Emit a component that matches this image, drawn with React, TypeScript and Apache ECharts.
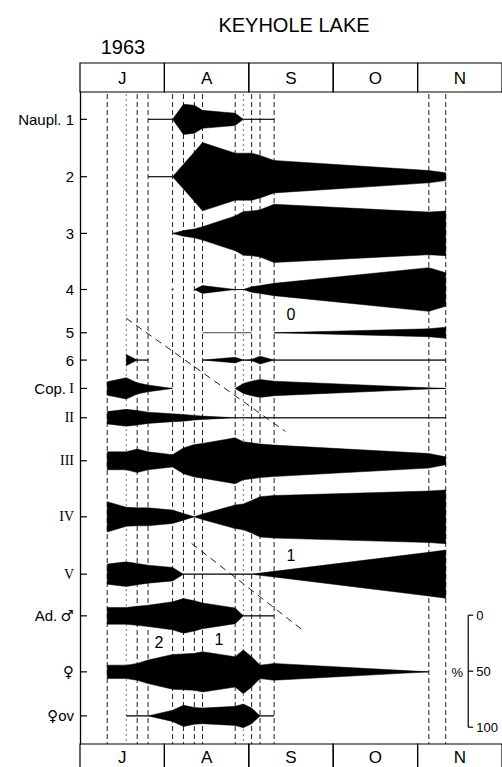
import React, { useEffect, useRef } from 'react';
import * as echarts from 'echarts';

const N = null;

// ---- calendar ----
const monthLabels = ['J', 'A', 'S', 'O', 'N'];
const firstMonth = 7;
const daysInMonth: Record<number, number> = { 7: 31, 8: 31, 9: 30, 10: 31, 11: 30 };

// sampling dates (1963)
const sampleDates = ['07-11', '07-18', '07-22', '07-26', '08-04', '08-08', '08-12', '08-15', '08-27', '08-30', '09-02', '09-05', '09-10', '11-05', '11-11'];
const dottedSamples = ['07-18', '08-30'];

// ---- stages (rows) ----
const rowLabels = ['Naupl. 1', '2', '3', '4', '5', '6', 'Cop. I', 'II', 'III', 'IV', 'V', 'Ad. ♂', '♀', '♀ov'];
// row baselines, in % units measured down from the top of the plot
const rowCenters = [24.4, 75.6, 126.2, 176.3, 214.9, 239.3, 264.6, 290.8, 329.2, 379.2, 430.4, 467.6, 517.6, 556.9];

// ---- percentage of each stage at each sampling date (null = not recorded) ----
const naupl1 = [N, N, N, 0, 0, 27, 25, 16, 11, 0, 0, 0, 0, N, N];
const naupl2 = [N, N, N, 0, 0, 22, 44, 61, 42, 42, 42, 38, 29, 11, 7];
const naupl3 = [N, N, N, N, 0, 5, 8, 12, 31, 39, 40, 42, 52, 38, 40];
const naupl4 = [N, N, N, N, N, N, 0, 7, 0, 0, 5, 7, 11, 39, 30];
const naupl5 = [N, N, N, N, N, N, N, 0, 0, 0, 0, N, 0, 7, 10];
const naupl6 = [N, 10, 0, 0, N, N, N, 0, 5, 0, 1, 7, 0, 0, 0];
const copI = [12, 19, 10, 6, 0, N, N, N, 0, 9, 13, 16, 13, 1, 0];
const copII = [11, 15, 13, 10, 7, 6, 4, 3, 0, 0, 0, 0, 0, 0, 0];
const copIII = [16, 16, 21, 16, 11, 23, 29, 31, 41, 34, 32, 30, 28, 13, 7];
const copIV = [27, 17, 16, 16, 12, 6, 0, 5, 21, 23, 29, 36, 38, 46, 48];
const copV = [18, 22, 19, 16, 12, 0, 0, 0, 0, 0, 0, 2, 5, 39, 43];
const adMale = [15, 15, 17, 19, 25, 31, 27, 23, 14, 0, 0, 0, 0, N, N];
const adFemale = [12, 12, 15, 21, 31, 32, 33, 36, 27, 39, 27, 12, 15, 0, N];
const femaleOv = [N, 0, 0, 0, 10, 19, 15, 14, 17, 21, 14, 0, 0, N, N];

// single "trace" observation (⊙)
const traceRows = [3];
const traceDates = ['08-04'];

// cohort (generation) guide lines
const cohortStartDates = ['07-18', '08-11'];
const cohortEndDates = ['09-14', '09-21'];
const cohortStartDepth = [202, 403];
const cohortEndDepth = [303, 482];

// generation labels
const genLabels = ['0', '1', '2', '1'];
const genDates = ['09-16', '09-16', '07-30', '08-21'];
const genDepth = [199, 414, 491, 489];

// % scale bar
const scaleTicks = [0, 50, 100];
const scaleDate = '11-19';
const scaleTop = 467;

const Y_MAX = 582;
const SANS = '"Liberation Sans", Arial, Helvetica, sans-serif';
const SERIF = '"Liberation Serif", "Times New Roman", serif';
const SYM = '"DejaVu Sans", "Liberation Sans", sans-serif';

function toX(date: string): number {
  const [m, d] = date.split('-').map(Number);
  return m - firstMonth + (d - 1) / daysInMonth[m];
}

const xs = sampleDates.map(toX);
const rows = [naupl1, naupl2, naupl3, naupl4, naupl5, naupl6, copI, copII, copIII, copIV, copV, adMale, adFemale, femaleOv];

function labelText(label: string) {
  const roman = /^(I|II|III|IV|V)$/;
  if (roman.test(label)) return `{r|${label}}`;
  if (label.startsWith('Cop.')) return `{s|Cop.} {r|${label.slice(5)}}`;
  if (label.startsWith('Ad.')) return `{s|Ad.} {g|♂}`;
  if (label === '♀') return `{g|♀}`;
  if (label === '♀ov') return `{g|♀}{s|ov}`;
  return `{s|${label}}`;
}

export default function App() {
  const ref = useRef<HTMLDivElement>(null);
  useEffect(() => {
    if (!ref.current) return;
    const chart = echarts.init(ref.current, undefined, { renderer: 'svg' });

    const renderKite = (params: any, api: any) => {
      const r = params.dataIndex;
      const vals = rows[r];
      const c = rowCenters[r];
      const children: any[] = [];
      let seg: number[] = [];
      const flush = () => {
        if (seg.length) {
          const left = api.coord([xs[seg[0]], c]);
          const right = api.coord([xs[seg[seg.length - 1]], c]);
          if (seg.length > 1) {
            children.push({
              type: 'line',
              shape: { x1: left[0], y1: left[1], x2: right[0], y2: right[1] },
              style: { stroke: '#444', lineWidth: 1 },
            });
          }
          if (seg.some((i) => (vals[i] as number) > 0)) {
            const top = seg.map((i) => api.coord([xs[i], c - (vals[i] as number) / 2]));
            const bot = seg.slice().reverse().map((i) => api.coord([xs[i], c + (vals[i] as number) / 2]));
            children.push({ type: 'polygon', shape: { points: top.concat(bot) }, style: { fill: '#000', stroke: '#000', lineWidth: 0.5 } });
          }
        }
        seg = [];
      };
      vals.forEach((v, i) => {
        if (v == null) flush();
        else seg.push(i);
      });
      flush();
      return { type: 'group', children };
    };

    const renderSample = (params: any, api: any) => {
      const d = sampleDates[params.dataIndex];
      const x = toX(d);
      const a = api.coord([x, 0]);
      const b = api.coord([x, Y_MAX]);
      const dotted = dottedSamples.includes(d);
      return {
        type: 'line',
        shape: { x1: a[0], y1: a[1] + 2, x2: b[0], y2: b[1] },
        style: { stroke: dotted ? '#777' : '#222', lineWidth: 1, lineDash: dotted ? [2, 3] : [5, 3] },
      };
    };

    const renderMonth = (params: any, api: any) => {
      const i = params.dataIndex;
      const a = api.coord([i, 0]);
      const b = api.coord([i + 1, Y_MAX]);
      const w = b[0] - a[0];
      const txt = (x: number, y: number) => ({
        type: 'text',
        style: { text: monthLabels[i], x, y, fill: '#000', font: `17px ${SANS}`, textAlign: 'center', textVerticalAlign: 'middle', align: 'center', verticalAlign: 'middle' },
      });
      return {
        type: 'group',
        children: [
          { type: 'rect', shape: { x: a[0], y: a[1] - 29, width: w, height: 29 }, style: { fill: 'none', stroke: '#000', lineWidth: 1.2 } },
          txt(a[0] + w / 2, a[1] - 14),
          { type: 'rect', shape: { x: a[0], y: b[1], width: w, height: 40 }, style: { fill: 'none', stroke: '#000', lineWidth: 1.2 } },
          txt(a[0] + w / 2, b[1] + 13),
        ],
      };
    };

    const renderRowLabel = (params: any, api: any) => {
      const r = params.dataIndex;
      const p = api.coord([0, rowCenters[r]]);
      return {
        type: 'group',
        children: [
          { type: 'line', shape: { x1: p[0], y1: p[1], x2: p[0] + 7, y2: p[1] }, style: { stroke: '#000', lineWidth: 1.2 } },
          {
            type: 'text',
            style: {
              text: labelText(rowLabels[r]),
              x: p[0] - 6,
              y: p[1],
              textAlign: 'right',
              textVerticalAlign: 'middle',
              align: 'right',
              verticalAlign: 'middle',
              fill: '#000',
              rich: {
                s: { fontFamily: SANS, fontSize: 15, fontWeight: 'normal', fill: '#000' },
                r: { fontFamily: SERIF, fontSize: 14, fontWeight: 'normal', fill: '#000' },
                g: { fontFamily: SYM, fontSize: 15, fontWeight: 'normal', fill: '#000' },
              },
            },
          },
        ],
      };
    };

    const renderGen = (params: any, api: any) => {
      const i = params.dataIndex;
      const p = api.coord([toX(genDates[i]), genDepth[i]]);
      return {
        type: 'text',
        style: { text: genLabels[i], x: p[0], y: p[1], font: `16px ${SANS}`, fill: '#000', textAlign: 'center', textVerticalAlign: 'middle', align: 'center', verticalAlign: 'middle' },
      };
    };

    const renderScale = (params: any, api: any) => {
      const x = toX(scaleDate);
      const t = api.coord([x, scaleTop]);
      const b = api.coord([x, scaleTop + 100]);
      const children: any[] = [
        { type: 'line', shape: { x1: t[0], y1: t[1], x2: b[0], y2: b[1] }, style: { stroke: '#000', lineWidth: 1.2 } },
      ];
      scaleTicks.forEach((v) => {
        const p = api.coord([x, scaleTop + v]);
        children.push({ type: 'line', shape: { x1: p[0], y1: p[1], x2: p[0] + 5, y2: p[1] }, style: { stroke: '#000', lineWidth: 1.2 } });
        children.push({
          type: 'text',
          style: { text: String(v), x: p[0] + 8, y: p[1], font: `13px ${SANS}`, fill: '#000', textAlign: 'left', textVerticalAlign: 'middle', align: 'left', verticalAlign: 'middle' },
        });
      });
      const m = api.coord([x, scaleTop + 50]);
      children.push({
        type: 'text',
        style: { text: '%', x: m[0] - 11, y: m[1] + 1, font: `13px ${SANS}`, fill: '#000', textAlign: 'center', textVerticalAlign: 'middle', align: 'center', verticalAlign: 'middle' },
      });
      return { type: 'group', children };
    };

    const option: any = {
      animation: false,
      backgroundColor: '#fff',
      grid: { left: 80, top: 92, width: 425, height: 652, containLabel: false },
      xAxis: { type: 'value', min: 0, max: 5, show: false },
      yAxis: {
        type: 'value',
        min: 0,
        max: Y_MAX,
        inverse: true,
        axisLine: { show: true, lineStyle: { color: '#000', width: 1.3 } },
        axisTick: { show: false },
        axisLabel: { show: false },
        splitLine: { show: false },
      },
      graphic: [
        { type: 'text', x: 294, y: 25, style: { text: 'KEYHOLE LAKE', font: `20px ${SANS}`, fill: '#000', textAlign: 'center', textVerticalAlign: 'middle', align: 'center', verticalAlign: 'middle' } },
        { type: 'text', x: 123, y: 47, style: { text: '1963', font: `20px ${SANS}`, fill: '#000', textAlign: 'center', textVerticalAlign: 'middle', align: 'center', verticalAlign: 'middle' } },
      ],
      series: [
        { type: 'custom', name: 'samples', data: sampleDates.map((d) => [toX(d), 0]), renderItem: renderSample, clip: false, z: 1, silent: true },
        {
          type: 'line',
          name: 'cohort0',
          data: [[toX(cohortStartDates[0]), cohortStartDepth[0]], [toX(cohortEndDates[0]), cohortEndDepth[0]]],
          showSymbol: false,
          lineStyle: { color: '#222', width: 1, type: [7, 5] },
          z: 2,
          silent: true,
        },
        {
          type: 'line',
          name: 'cohort1',
          data: [[toX(cohortStartDates[1]), cohortStartDepth[1]], [toX(cohortEndDates[1]), cohortEndDepth[1]]],
          showSymbol: false,
          lineStyle: { color: '#222', width: 1, type: [7, 5] },
          z: 2,
          silent: true,
        },
        { type: 'custom', name: 'kites', data: rows.map((_, i) => [0, rowCenters[i]]), renderItem: renderKite, clip: false, z: 3, silent: true },
        { type: 'custom', name: 'months', data: monthLabels.map((_, i) => [i, 0]), renderItem: renderMonth, clip: false, z: 4, silent: true },
        { type: 'custom', name: 'rowLabels', data: rowLabels.map((_, i) => [0, rowCenters[i]]), renderItem: renderRowLabel, clip: false, z: 4, silent: true },
        { type: 'custom', name: 'scale', data: [[toX(scaleDate), scaleTop]], renderItem: renderScale, clip: false, z: 4, silent: true },
        { type: 'custom', name: 'generations', data: genLabels.map((_, i) => [toX(genDates[i]), genDepth[i]]), renderItem: renderGen, clip: false, z: 5, silent: true },
        {
          type: 'scatter',
          name: 'trace',
          data: traceRows.map((r, i) => [toX(traceDates[i]), rowCenters[r]]),
          symbol: 'emptyCircle',
          symbolSize: 7,
          itemStyle: { color: '#fff', borderColor: '#000', borderWidth: 1 },
          z: 5,
          silent: true,
        },
        {
          type: 'scatter',
          name: 'traceDot',
          data: traceRows.map((r, i) => [toX(traceDates[i]), rowCenters[r]]),
          symbol: 'circle',
          symbolSize: 2,
          itemStyle: { color: '#000' },
          z: 6,
          silent: true,
        },
      ],
    };
    chart.setOption(option);
    return () => chart.dispose();
  }, []);
  return <div ref={ref} style={{ position: 'absolute', left: 0, top: 0, width: 502, height: 767, background: '#fff' }} />;
}
